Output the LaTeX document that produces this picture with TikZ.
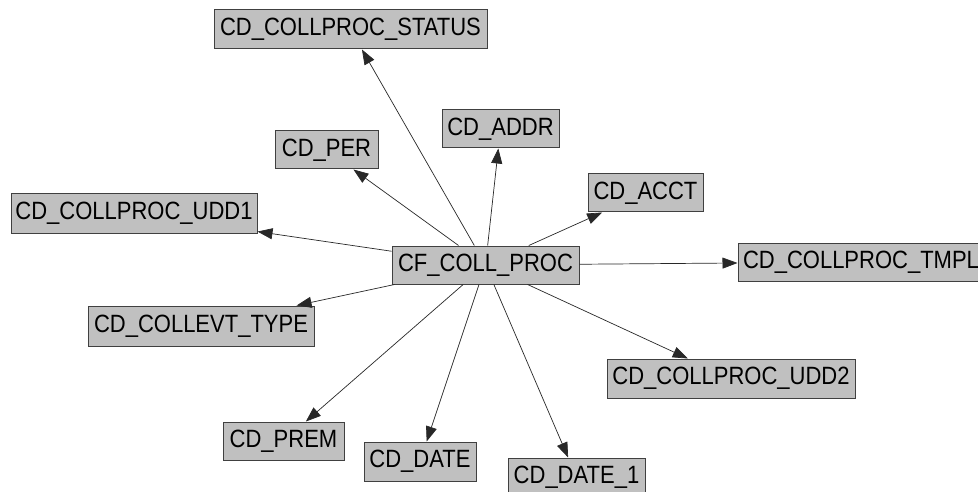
\documentclass[tikz,border=0pt]{standalone}
\usepackage{fontspec}
\setmainfont{Liberation Sans}[FakeStretch=0.88]
\usetikzlibrary{arrows.meta}
\definecolor{boxfill}{RGB}{192,192,192}
\definecolor{boxline}{RGB}{64,64,64}
\definecolor{edgecol}{RGB}{40,40,40}
\begin{document}
\begin{tikzpicture}[x=1pt,y=-1pt,
  tbl/.style={draw=boxline, fill=boxfill, line width=1pt, rectangle, inner sep=0pt,
    font=\fontsize{25}{25}\selectfont, text=black, anchor=center},
  rel/.style={draw=edgecol, line width=0.7pt, -{Triangle[length=15pt,width=11pt]}}]
\useasboundingbox (0,0) rectangle (978,492);
\clip (0,0) rectangle (978,492);
\fill[white] (0,0) rectangle (978,492);
\node[tbl, minimum width=273pt, minimum height=39pt] (status) at (350.5,29.5) {CD\_COLLPROC\_STATUS};
\node[tbl, minimum width=117pt, minimum height=38pt] (addr) at (500.5,129) {CD\_ADDR};
\node[tbl, minimum width=103pt, minimum height=38pt] (per) at (326.5,150) {CD\_PER};
\node[tbl, minimum width=115pt, minimum height=38pt] (acct) at (645.5,193) {CD\_ACCT};
\node[tbl, minimum width=246pt, minimum height=39pt] (udd1) at (134,213.5) {CD\_COLLPROC\_UDD1};
\node[tbl, minimum width=187pt, minimum height=38pt] (cf) at (485.5,265) {CF\_COLL\_PROC};
\node[tbl, minimum width=246pt, minimum height=38pt] (tmpl) at (861,262) {CD\_COLLPROC\_TMPL};
\node[tbl, minimum width=226pt, minimum height=40pt] (evt) at (201,326) {CD\_COLLEVT\_TYPE};
\node[tbl, minimum width=248pt, minimum height=39pt] (udd2) at (731,378.5) {CD\_COLLPROC\_UDD2};
\node[tbl, minimum width=121pt, minimum height=38pt] (prem) at (283.5,441) {CD\_PREM};
\node[tbl, minimum width=112pt, minimum height=39pt] (date) at (420,461.5) {CD\_DATE};
\node[tbl, minimum width=137pt, minimum height=38pt] (date1) at (576.5,477) {CD\_DATE\_1};
\foreach \t in {status,addr,per,acct,udd1,tmpl,evt,udd2,prem,date,date1}
  \draw[rel] (cf) -- (\t);
\end{tikzpicture}
\end{document}
